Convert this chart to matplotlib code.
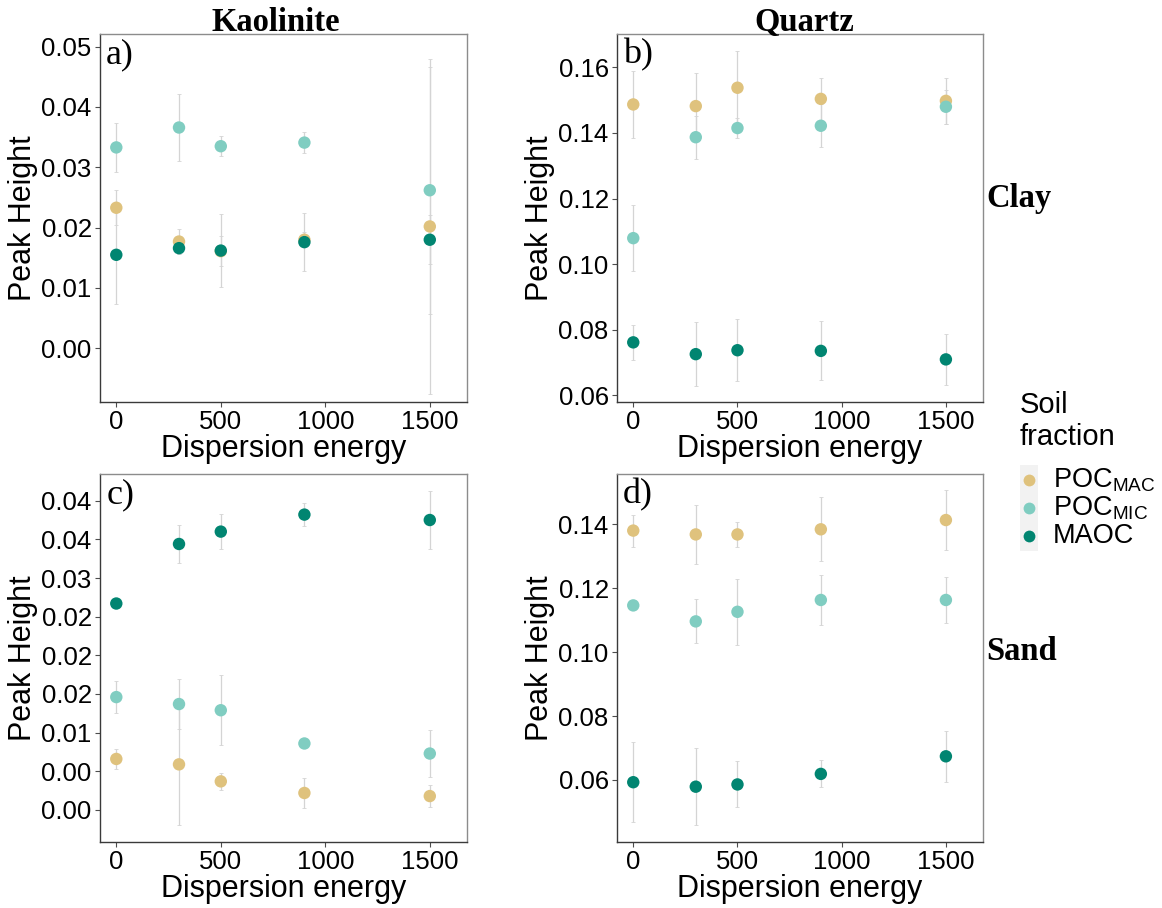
import matplotlib
matplotlib.use("Agg")
import matplotlib.pyplot as plt
from matplotlib.patches import Rectangle
from matplotlib.lines import Line2D

plt.rcParams['font.family'] = ['Liberation Sans', 'DejaVu Sans']
plt.rcParams['mathtext.fontset'] = 'custom'
plt.rcParams['mathtext.rm'] = 'Liberation Sans'
plt.rcParams['mathtext.it'] = 'Liberation Sans'

# ---------------- data ----------------
energy = [0, 300, 500, 900, 1500]
fractions = ["POC$_{\\rm MAC}$", "POC$_{\\rm MIC}$", "MAOC"]
colors = ["#dfc27d", "#80cdc1", "#018571"]

# a) Kaolinite - Clay
a_mac = [0.0233, 0.0177, 0.0161, 0.0180, 0.0202]
a_mac_err = [0.0029, 0.0020, 0.0025, 0.0012, 0.0277]
a_mic = [0.0333, 0.0366, 0.0335, 0.0341, 0.0262]
a_mic_err = [0.0041, 0.0055, 0.0017, 0.0018, 0.0205]
a_maoc = [0.0155, 0.0166, 0.0162, 0.0176, 0.0180]
a_maoc_err = [0.0082, 0.0010, 0.0061, 0.0048, 0.0041]

# b) Quartz - Clay
b_mac = [0.1487, 0.1482, 0.1538, 0.1504, 0.1498]
b_mac_err = [0.0102, 0.0102, 0.0112, 0.0065, 0.0071]
b_mic = [0.1079, 0.1387, 0.1415, 0.1422, 0.1480]
b_mic_err = [0.0100, 0.0066, 0.0030, 0.0066, 0.0052]
b_maoc = [0.0761, 0.0725, 0.0737, 0.0735, 0.0709]
b_maoc_err = [0.0053, 0.0097, 0.0095, 0.0090, 0.0077]

# c) Kaolinite - Sand
c_mac = [0.0066, 0.0059, 0.0037, 0.0022, 0.0018]
c_mac_err = [0.0013, 0.0078, 0.0011, 0.0019, 0.0014]
c_mic = [0.0146, 0.0137, 0.0129, 0.0086, 0.0073]
c_mic_err = [0.0021, 0.0032, 0.0045, 0.0005, 0.0030]
c_maoc = [0.0267, 0.0344, 0.0360, 0.0382, 0.0375]
c_maoc_err = [0.0005, 0.0024, 0.0023, 0.0015, 0.0037]

# d) Quartz - Sand
d_mac = [0.1380, 0.1368, 0.1368, 0.1384, 0.1413]
d_mac_err = [0.0050, 0.0093, 0.0040, 0.0100, 0.0093]
d_mic = [0.1146, 0.1096, 0.1126, 0.1163, 0.1163]
d_mic_err = [0.0010, 0.0069, 0.0103, 0.0078, 0.0073]
d_maoc = [0.0593, 0.0579, 0.0586, 0.0619, 0.0674]
d_maoc_err = [0.0125, 0.0120, 0.0072, 0.0042, 0.0079]

a_ticks = [0.00, 0.01, 0.02, 0.03, 0.04, 0.05]
a_labels = ["0.00", "0.01", "0.02", "0.03", "0.04", "0.05"]
b_ticks = [0.06, 0.08, 0.10, 0.12, 0.14, 0.16]
b_labels = ["0.06", "0.08", "0.10", "0.12", "0.14", "0.16"]
c_ticks = [0.000, 0.005, 0.010, 0.015, 0.020, 0.025, 0.030, 0.035, 0.040]
c_labels = ["0.00", "0.00", "0.01", "0.02", "0.02", "0.02", "0.03", "0.04", "0.04"]
d_ticks = [0.06, 0.08, 0.10, 0.12, 0.14]
d_labels = ["0.06", "0.08", "0.10", "0.12", "0.14"]
x_ticks = [0, 500, 1000, 1500]
x_labels = ["0", "500", "1000", "1500"]

columns = ["Kaolinite", "Quartz"]
rows = ["Clay", "Sand"]

# ---------------- figure ----------------
W, H = 1162, 908
fig = plt.figure(figsize=(W / 100, H / 100), dpi=100)


def px_axes(l, t, r, b):
    return fig.add_axes([l / W, 1 - b / H, (r - l) / W, (b - t) / H])


panels = [
    dict(rect=(100, 34, 467, 402), vals=[(a_mac, a_mac_err), (a_mic, a_mic_err), (a_maoc, a_maoc_err)],
         ylim=(-0.0089, 0.0521), ticks=a_ticks, labels=a_labels, tag="a)"),
    dict(rect=(617, 34, 983, 402), vals=[(b_mac, b_mac_err), (b_mic, b_mic_err), (b_maoc, b_maoc_err)],
         ylim=(0.0579, 0.1702), ticks=b_ticks, labels=b_labels, tag="b)"),
    dict(rect=(100, 474, 467, 842), vals=[(c_mac, c_mac_err), (c_mic, c_mic_err), (c_maoc, c_maoc_err)],
         ylim=(-0.00414, 0.04345), ticks=c_ticks, labels=c_labels, tag="c)"),
    dict(rect=(617, 474, 983, 842), vals=[(d_mac, d_mac_err), (d_mic, d_mic_err), (d_maoc, d_maoc_err)],
         ylim=(0.0406, 0.1557), ticks=d_ticks, labels=d_labels, tag="d)"),
]

for p in panels:
    l, t, r, b = p["rect"]
    ax = px_axes(l, t, r, b)
    for (vals, errs), col in zip(p["vals"], colors):
        ax.errorbar(energy, vals, yerr=errs, fmt='none', ecolor='#d4d4d4',
                    elinewidth=0.9, capsize=1.5, capthick=0.6, zorder=1)
    for (vals, errs), col in zip(p["vals"], colors):
        ax.scatter(energy, vals, s=80, color=col, edgecolors='none', zorder=3)
    ax.set_xlim(-78, 1678)
    ax.set_ylim(*p["ylim"])
    ax.set_xticks(x_ticks)
    ax.set_xticklabels(x_labels)
    ax.set_yticks(p["ticks"])
    ax.set_yticklabels(p["labels"])
    ax.tick_params(axis='both', labelsize=18.5, length=3.5, width=0.8,
                   color='#4d4d4d', labelcolor='black', pad=2.5)
    for s in ['left', 'bottom']:
        ax.spines[s].set_color('#3a3a3a')
        ax.spines[s].set_linewidth(1.0)
    for s in ['top', 'right']:
        ax.spines[s].set_color('#8c8c8c')
        ax.spines[s].set_linewidth(1.0)
    # y label centred ~76 px left of the axis
    ax.text(-(l - (l - 77)) / (r - l), 0.5, "Peak Height", transform=ax.transAxes,
            rotation=90, ha='center', va='center', fontsize=22)
    ax.text(0.5, -0.149, "Dispersion energy", transform=ax.transAxes,
            ha='center', va='baseline', fontsize=22)
    ax.text(0.017, 0.921, p["tag"], transform=ax.transAxes, ha='left',
            va='baseline', fontsize=26, family='Liberation Serif')

# column titles
fig.text(276 / W, 1 - 31 / H, columns[0], ha='center', va='baseline',
         fontsize=23.5, fontweight='bold', family='Liberation Serif')
fig.text(804 / W, 1 - 31 / H, columns[1], ha='center', va='baseline',
         fontsize=23.5, fontweight='bold', family='Liberation Serif')
# row labels
fig.text(986 / W, 1 - 198 / H, rows[0], ha='left', va='center',
         fontsize=23.5, fontweight='bold', family='Liberation Serif')
fig.text(986 / W, 1 - 652 / H, rows[1], ha='left', va='center',
         fontsize=23.5, fontweight='bold', family='Liberation Serif')

# legend
fig.text(1020 / W, 1 - 413 / H, "Soil", ha='left', va='baseline', fontsize=21)
fig.text(1020 / W, 1 - 445 / H, "fraction", ha='left', va='baseline', fontsize=21)
fig.patches.append(Rectangle((1020 / W, 1 - 551 / H), 18 / W, 86 / H,
                             transform=fig.transFigure, facecolor='#f2f2f2',
                             edgecolor='none', zorder=0))
key_y = [480, 508, 536]
for ky, col, lab in zip(key_y, colors, fractions):
    fig.lines.append(Line2D([1029 / W], [1 - ky / H], marker='o', markersize=8.5,
                            color=col, markeredgecolor='none', linestyle='none',
                            transform=fig.transFigure))
    fig.text(1053 / W, 1 - (ky + 7) / H, lab, ha='left', va='baseline', fontsize=19.5)

fig.savefig("out.png", dpi=100)
